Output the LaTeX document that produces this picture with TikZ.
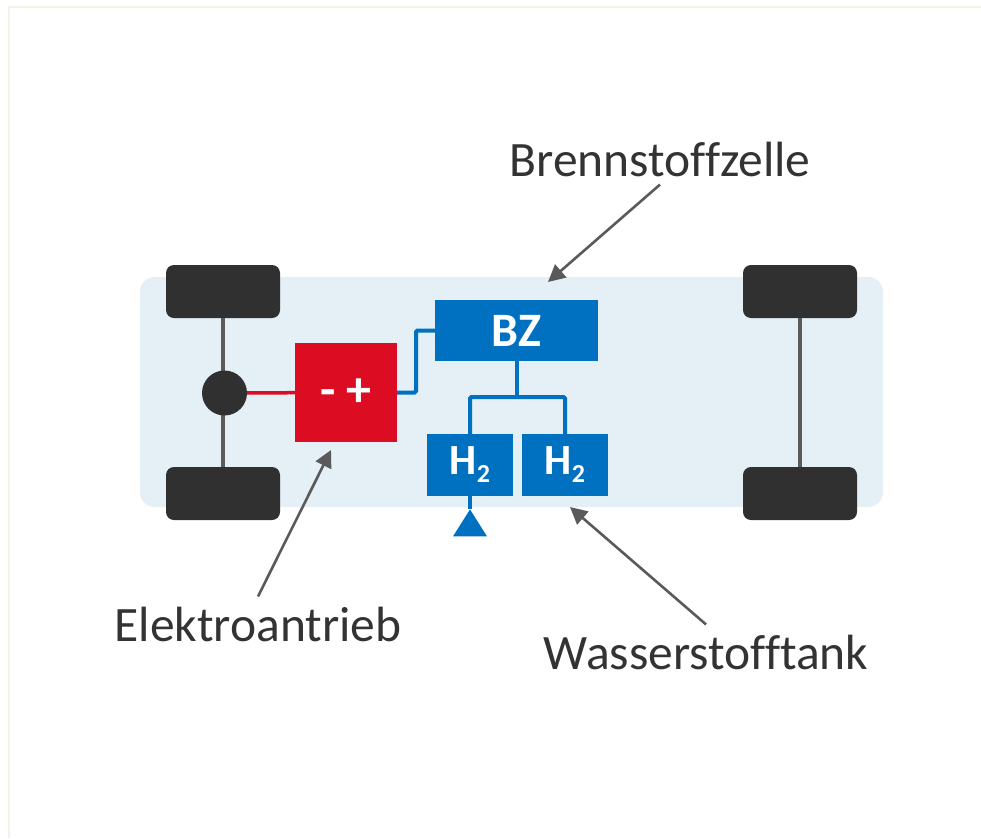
\documentclass[tikz,border=0pt]{standalone}
\usepackage{fontspec}
\setmainfont{Carlito}[Ligatures=NoCommon]
\usepackage{xcolor}
\usepackage{tikz}
\usetikzlibrary{arrows.meta}
\usetikzlibrary{shapes.geometric}
\definecolor{bodyblue}{HTML}{E4EFF6}
\definecolor{tyre}{HTML}{303030}
\definecolor{axlegrey}{HTML}{5A5A5A}
\definecolor{h2blue}{HTML}{0070C0}
\definecolor{motorred}{HTML}{DC0C23}
\definecolor{labeltext}{HTML}{333333}
\definecolor{framecream}{HTML}{F4F1E6}
\newcommand{\hydrogen}{H\raisebox{-8pt}{\fontsize{26}{26}\selectfont 2}}
\tikzset{
	wheel/.style={draw=none,fill=tyre,rounded corners=8pt,minimum width=114pt,minimum height=53pt,inner sep=0pt},
	axle/.style={draw=axlegrey,line width=4pt},
	bluebox/.style={fill=h2blue,text=white,inner sep=0pt,font=\fontsize{43}{43}\selectfont\bfseries},
	blueline/.style={draw=h2blue,line width=4pt,rounded corners=1.5pt},
	callout/.style={draw=axlegrey,line width=2.6pt,-{Triangle[length=17pt,width=17pt]}},
	caption/.style={text=labeltext,inner sep=0pt,font=\fontsize{49.5}{49.5}\selectfont}
}
\begin{document}
\begin{tikzpicture}[x=1pt,y=-1pt]
	 \useasboundingbox (0,0) rectangle (981,838);
	 \draw[framecream,line width=2pt] (9,838) -- (9,7) -- (981,7);
	 \node (body) at (511.5,392) [fill=bodyblue,rounded corners=15pt,minimum width=743pt,minimum height=230pt,inner sep=0pt]{};
	 \node (wheelFL) at (223,291.5) [wheel]{};
	 \node (wheelRL) at (223,493.5) [wheel]{};
	 \node (wheelFR) at (800,291.5) [wheel]{};
	 \node (wheelRR) at (800,493.5) [wheel]{};
	 \draw[axle] (wheelFL.south) -- (wheelRL.north);
	 \draw[axle] (wheelFR.south) -- (wheelRR.north);
	 \node (hub) at (224.5,393) [circle,fill=tyre,minimum size=45pt,inner sep=0pt]{};
	 \node (motor) at (346,392.5) [fill=motorred,text=white,minimum width=102pt,minimum height=99pt,inner sep=0pt,font=\fontsize{50}{50}\selectfont\bfseries]{- +};
	 \draw[draw=motorred,line width=3.5pt] (hub) -- (motor);
	 \node (bz) at (516.5,330.5) [bluebox,minimum width=163pt,minimum height=61pt,font=\fontsize{48}{48}\selectfont\bfseries]{BZ};
	 \node (tankL) at (470,465) [bluebox,minimum width=86pt,minimum height=62pt]{\hydrogen};
	 \node (tankR) at (565,465) [bluebox,minimum width=86pt,minimum height=62pt]{\hydrogen};
	 \node (port) at (470,527) [isosceles triangle,isosceles triangle stretches,shape border rotate=90,fill=h2blue,minimum width=34pt,minimum height=27pt,inner sep=0pt]{};
	 \coordinate (jog) at (416,362);
	 \coordinate (bus) at (516.5,397);
	 \draw[blueline] (motor.east) -| (jog) |- (bz.west);
	 \draw[blueline] (bz.south) -- (bus);
	 \draw[blueline] (tankL.north) |- (bus) -| (tankR.north);
	 \draw[blueline] (tankL.south) -- (port.apex);
	 \node (lblBZ) at (660,159) [caption]{Brennstoffzelle};
	 \node (lblMotor) at (258,624) [caption]{Elektroantrieb};
	 \node (lblTank) at (706,652) [caption]{Wasserstofftank};
	 \coordinate (tipBZ) at (548,282);
	 \coordinate (tipMotor) at (331,450);
	 \coordinate (tipTank) at (570,507);
	 \draw[callout] ([yshift=-8pt]lblBZ.south) -- (tipBZ);
	 \draw[callout] ([yshift=10pt]lblMotor.north) -- (tipMotor);
	 \draw[callout] ([yshift=10pt]lblTank.north) -- (tipTank);
\end{tikzpicture}
\end{document}
